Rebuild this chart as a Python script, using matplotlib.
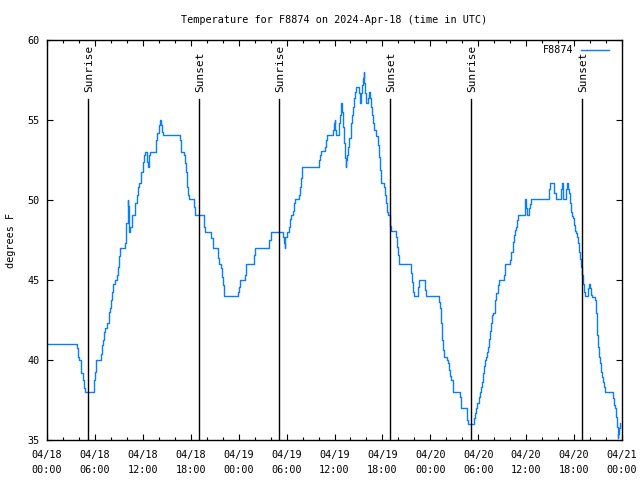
import numpy as np
import matplotlib
matplotlib.use("Agg")
import matplotlib.pyplot as plt
import matplotlib.transforms as mtransforms
from datetime import datetime, timedelta

# hours since 2024-04-18 00:00 UTC where the reading changes, and the new reading (deg F)
hours = [
    0.0, 3.75, 3.92, 4.0, 4.3, 4.46, 4.67, 4.75, 5.83, 5.96, 6.09, 6.72, 6.88, 7.05,
    7.17, 7.3, 7.55, 7.72, 7.88, 8.01, 8.18, 8.3, 8.47, 8.72, 8.84, 8.97, 9.05, 9.2,
    9.76, 9.93, 10.08, 10.17, 10.22, 10.35, 10.64, 11.06, 11.22, 11.35, 11.47, 11.81,
    11.98, 12.10, 12.23, 12.56, 12.64, 12.73, 12.94, 13.60, 13.77, 13.98, 14.06, 14.19,
    14.31, 14.40, 14.48, 16.61, 16.73, 17.11, 17.23, 17.36, 17.49, 17.65, 17.73, 18.36,
    18.49, 19.61, 19.70, 19.82, 20.5, 20.74, 21.37, 21.49, 21.83, 21.91, 22.03, 22.20,
    23.87, 24.0, 24.16, 24.83, 24.96, 25.87, 26.0, 27.83, 28.0, 29.59, 29.67, 29.76,
    29.84, 30.05, 30.26, 30.38, 30.51, 30.80, 30.88, 31.01, 31.59, 31.72, 31.84, 31.97,
    34.10, 34.22, 34.35, 34.85, 34.93, 35.06, 35.85, 35.93, 36.02, 36.10, 36.18, 36.52,
    36.64, 36.77, 36.85, 36.98, 37.10, 37.23, 37.31, 37.39, 37.48, 37.60, 37.73, 37.85,
    38.02, 38.19, 38.31, 38.44, 38.56, 38.69, 39.02, 39.15, 39.27, 39.40, 39.52, 39.65,
    39.73, 39.82, 39.90, 40.23, 40.36, 40.48, 40.61, 40.73, 40.86, 40.98, 41.15, 41.44,
    41.53, 41.65, 41.78, 41.86, 42.15, 42.28, 42.40, 42.53, 42.65, 42.91, 42.99, 43.07,
    43.74, 43.87, 43.99, 44.12, 45.58, 45.71, 45.83, 45.91, 46.50, 46.62, 47.29, 47.41,
    49.04, 49.17, 49.30, 49.46, 49.58, 49.75, 50.08, 50.21, 50.29, 50.42, 50.63, 50.80,
    51.71, 51.80, 51.88, 52.55, 52.63, 52.71, 53.51, 53.63, 53.76, 53.88, 54.05, 54.17,
    54.34, 54.47, 54.55, 54.68, 54.80, 54.97, 55.09, 55.22, 55.34, 55.47, 55.59, 55.72,
    55.89, 56.05, 56.14, 56.26, 56.43, 56.55, 57.27, 57.39, 58.02, 58.14, 58.31, 58.48,
    58.64, 58.77, 58.89, 58.98, 59.81, 59.89, 60.02, 60.14, 60.39, 60.52, 60.64, 62.81,
    62.94, 63.52, 63.69, 64.32, 64.44, 64.57, 64.65, 65.03, 65.15, 65.28, 65.40, 65.53,
    65.65, 65.78, 65.90, 66.03, 66.15, 66.28, 66.40, 66.53, 66.65, 66.78, 66.91, 67.03,
    67.16, 67.28, 67.41, 67.74, 67.86, 67.99, 68.11, 68.24, 68.57, 68.70, 68.82, 68.95,
    69.07, 69.20, 69.32, 69.45, 69.57, 69.70, 69.83, 70.87, 70.95, 71.08, 71.20, 71.33,
    71.45, 71.54, 71.62, 71.70, 71.75,
]
temps = [
    41.0, 40.73, 40.21, 40.0, 39.17, 38.75, 38.23, 38.0, 38.75, 39.27, 40.0, 40.35, 40.94, 41.25,
    41.77, 42.0, 42.3, 43.0, 43.23, 43.75, 44.27, 44.75, 45.0, 45.3, 45.83, 46.25, 46.5, 47.0,
    47.3, 48.54, 50.0, 49.6, 48.0, 48.33, 49.06, 49.79, 50.31, 50.83, 51.04, 51.77,
    52.4, 52.81, 53.02, 52.4, 52.08, 52.81, 53.02, 53.75, 54.17, 54.27, 54.69, 55.0,
    54.69, 54.27, 54.06, 53.75, 53.02, 52.81, 52.29, 51.77, 50.83, 50.31, 50.04, 49.58,
    49.06, 48.85, 48.33, 48.02, 47.6, 47.0, 46.35, 46.0, 45.73, 45.21, 44.69, 44.0,
    44.27, 44.58, 45.0, 45.31, 45.98, 46.56, 46.98, 47.5, 48.02, 47.71, 47.29, 46.98,
    47.71, 48.02, 48.33, 48.79, 49.06, 49.33, 49.79, 50.04, 50.31, 50.83, 51.35, 52.04,
    52.5, 52.81, 53.06, 53.33, 53.75, 54.04, 54.38, 54.79, 55.0, 54.38, 54.04, 54.79,
    55.31, 55.73, 56.04, 55.52, 54.58, 53.54, 52.6, 52.04, 52.5, 52.81, 53.33, 53.85,
    54.79, 55.31, 55.83, 56.35, 56.77, 57.04, 56.67, 56.04, 56.67, 57.19, 57.6, 58.02,
    57.29, 56.67, 56.04, 56.4, 56.77, 56.4, 55.83, 55.31, 54.79, 54.38, 54.0, 53.44,
    52.71, 51.88, 51.35, 51.04, 50.83, 50.31, 49.79, 49.27, 49.06, 48.75, 48.4, 48.06,
    47.71, 47.08, 46.56, 46.0, 45.42, 44.9, 44.27, 44.0, 44.58, 45.0, 44.38, 44.0,
    43.65, 43.23, 42.3, 41.25, 40.63, 40.2, 40.0, 39.79, 39.38, 39.0, 38.75, 38.02,
    37.71, 37.29, 36.98, 36.67, 36.25, 35.98, 36.35, 36.67, 36.98, 37.3, 37.71, 38.02,
    38.33, 38.65, 39.17, 39.6, 40.0, 40.21, 40.52, 40.83, 41.29, 41.83, 42.29, 42.81,
    42.96, 43.23, 43.75, 44.17, 44.69, 45.0, 45.31, 45.98, 46.25, 46.77, 47.4, 47.81,
    48.13, 48.33, 48.75, 49.06, 49.48, 50.04, 49.48, 49.06, 49.48, 49.75, 50.04, 50.7,
    51.04, 50.42, 50.04, 50.7, 51.04, 50.42, 50.04, 50.7, 51.04, 50.7, 50.42, 49.79,
    49.27, 49.0, 48.85, 48.44, 48.08, 47.96, 47.7, 47.29, 46.77, 46.29, 45.83, 45.31,
    44.75, 44.27, 44.0, 44.48, 44.75, 44.48, 44.06, 43.96, 43.75, 42.92, 41.56, 40.83,
    40.21, 39.79, 39.27, 38.92, 38.65, 38.33, 38.02, 37.6, 37.19, 36.98, 36.46, 35.83,
    35.1, 35.4, 35.73, 36.04, 36.04,
]

sunrise = [5.1, 29.05, 53.05]
sunset = [19.0, 42.95, 66.95]

start = datetime(2024, 4, 18)
xticks = list(range(0, 73, 6))
xlabels = [(start + timedelta(hours=h)).strftime("%m/%d\n%H:%M") for h in xticks]
yticks = [35, 40, 45, 50, 55, 60]

plt.rcParams['font.family'] = ['DejaVu Sans Mono']
plt.rcParams['font.size'] = 7.3

fig = plt.figure(figsize=(6.4, 4.8), dpi=100)
ax = fig.add_axes([47 / 640, 40 / 480, 575 / 640, 400 / 480])

ax.plot(hours, temps, drawstyle='steps-post', color='#0a7cff', lw=1.0, label='F8874')

trans = mtransforms.blended_transform_factory(ax.transData, ax.transAxes)
for h, name in [(h, 'Sunrise') for h in sunrise] + [(h, 'Sunset') for h in sunset]:
    ax.plot([h, h], [0, 0.852], color='black', lw=1.0, transform=trans)
    ax.text(h + 0.15, 0.87, name, rotation=90, ha='center', va='bottom',
            transform=trans, fontsize=8)

ax.set_xlim(0, 72)
ax.set_ylim(35, 60)
ax.set_xticks(xticks)
ax.set_xticklabels(xlabels, linespacing=1.55)
ax.set_xticks(range(0, 73, 2), minor=True)
ax.set_yticks(yticks)
ax.tick_params(axis='both', which='both', direction='in', top=True, right=True, width=0.8)
ax.tick_params(axis='both', which='major', length=4)
ax.tick_params(axis='x', which='minor', length=2.5)
ax.tick_params(axis='x', pad=7.5)
ax.tick_params(axis='y', pad=5)
for s in ax.spines.values():
    s.set_linewidth(1.0)

ax.set_ylabel('degrees F')
ax.yaxis.set_label_coords(-0.054, 0.5)

fig.text(334.5 / 640, 1 - 20 / 480, 'Temperature for F8874 on 2024-Apr-18 (time in UTC)',
         ha='center', va='center', fontsize=7.3)

ax.legend(loc='upper right', bbox_to_anchor=(1 - 8 / 575, 1), markerfirst=False,
          frameon=False, handlelength=2.8, handletextpad=0.7, borderaxespad=0.2,
          borderpad=0.3, fontsize=7.3)

fig.savefig('out.png', dpi=100)
